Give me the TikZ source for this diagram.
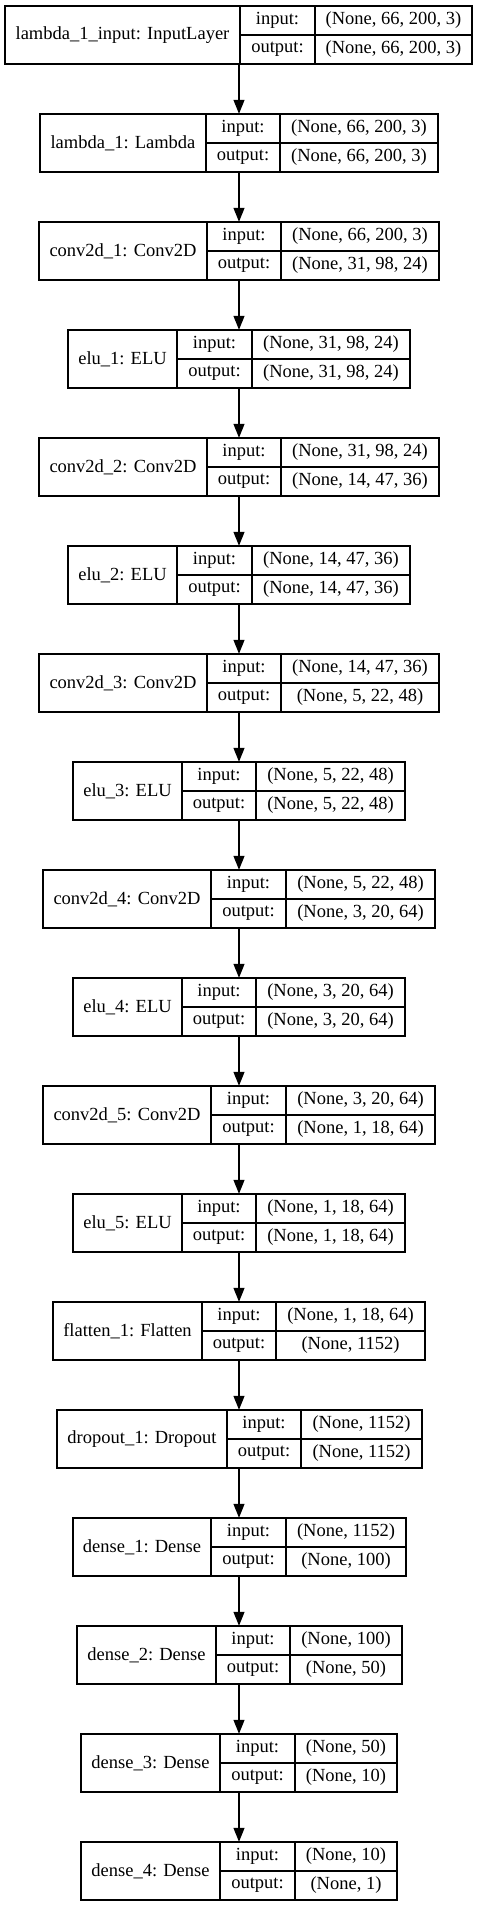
\documentclass[tikz,border=0pt]{standalone}
\usepackage{fontspec}
\setmainfont{Liberation Serif}
\usetikzlibrary{arrows.meta}
\tikzset{
  cellbox/.style={draw=black, line width=1.2pt, inner sep=0pt, anchor=center,
    font=\fontsize{18.5}{22}\selectfont},
  wholebox/.style={inner sep=0pt, anchor=center},
  flowarrow/.style={draw=black, line width=1.2pt, -{Triangle[length=14pt,width=11pt]}}
}
\newcommand{\mylayer}[9]{%
  \pgfmathsetmacro\myyc{-(6+108*#1+29)}%
  \pgfmathsetmacro\myyu{-(6+108*#1+14.5)}%
  \pgfmathsetmacro\myyl{-(6+108*#1+43.5)}%
  \node[wholebox, minimum width={(#5-#2)*1pt}, minimum height=58pt] (L#1) at ({(#2+#5)/2}, \myyc) {};
  \node[cellbox, minimum width={(#3-#2)*1pt}, minimum height=58pt] (N#1) at ({(#2+#3)/2}, \myyc) {#6};
  \node[cellbox, minimum width={(#4-#3)*1pt}, minimum height=29pt] (IL#1) at ({(#3+#4)/2}, \myyu) {input:};
  \node[cellbox, minimum width={(#4-#3)*1pt}, minimum height=29pt] (OL#1) at ({(#3+#4)/2}, \myyl) {output:};
  \node[cellbox, minimum width={(#5-#4)*1pt}, minimum height=29pt] (IV#1) at ({(#4+#5)/2}, \myyu) {#7};
  \node[cellbox, minimum width={(#5-#4)*1pt}, minimum height=29pt] (OV#1) at ({(#4+#5)/2}, \myyl) {#8};
}
\begin{document}
\begin{tikzpicture}[x=1pt, y=1pt]
\useasboundingbox (0,0) rectangle (479,-1907);
\mylayer{0}{5}{240}{315}{472}{lambda\_1\_input: InputLayer}{(None, 66, 200, 3)}{(None, 66, 200, 3)}{}
\mylayer{1}{40}{206}{280}{438}{lambda\_1: Lambda}{(None, 66, 200, 3)}{(None, 66, 200, 3)}{}
\mylayer{2}{39}{207}{281}{439}{conv2d\_1: Conv2D}{(None, 66, 200, 3)}{(None, 31, 98, 24)}{}
\mylayer{3}{68}{177}{252}{410}{elu\_1: ELU}{(None, 31, 98, 24)}{(None, 31, 98, 24)}{}
\mylayer{4}{39}{207}{281}{439}{conv2d\_2: Conv2D}{(None, 31, 98, 24)}{(None, 14, 47, 36)}{}
\mylayer{5}{68}{177}{252}{410}{elu\_2: ELU}{(None, 14, 47, 36)}{(None, 14, 47, 36)}{}
\mylayer{6}{39}{207}{281}{439}{conv2d\_3: Conv2D}{(None, 14, 47, 36)}{(None, 5, 22, 48)}{}
\mylayer{7}{73}{182}{256}{405}{elu\_3: ELU}{(None, 5, 22, 48)}{(None, 5, 22, 48)}{}
\mylayer{8}{43}{211}{286}{435}{conv2d\_4: Conv2D}{(None, 5, 22, 48)}{(None, 3, 20, 64)}{}
\mylayer{9}{73}{182}{256}{405}{elu\_4: ELU}{(None, 3, 20, 64)}{(None, 3, 20, 64)}{}
\mylayer{10}{43}{211}{286}{435}{conv2d\_5: Conv2D}{(None, 3, 20, 64)}{(None, 1, 18, 64)}{}
\mylayer{11}{73}{182}{256}{405}{elu\_5: ELU}{(None, 1, 18, 64)}{(None, 1, 18, 64)}{}
\mylayer{12}{53}{202}{276}{425}{flatten\_1: Flatten}{(None, 1, 18, 64)}{(None, 1152)}{}
\mylayer{13}{57}{227}{301}{422}{dropout\_1: Dropout}{(None, 1152)}{(None, 1152)}{}
\mylayer{14}{73}{211}{286}{406}{dense\_1: Dense}{(None, 1152)}{(None, 100)}{}
\mylayer{15}{77}{216}{290}{402}{dense\_2: Dense}{(None, 100)}{(None, 50)}{}
\mylayer{16}{81}{220}{295}{397}{dense\_3: Dense}{(None, 50)}{(None, 10)}{}
\mylayer{17}{81}{220}{295}{397}{dense\_4: Dense}{(None, 10)}{(None, 1)}{}
\foreach \i [evaluate=\i as \j using int(\i+1)] in {0,...,16} {
  \draw[flowarrow] (L\i.south -| 239,0) -- (L\j.north -| 239,0);
}
\end{tikzpicture}
\end{document}
